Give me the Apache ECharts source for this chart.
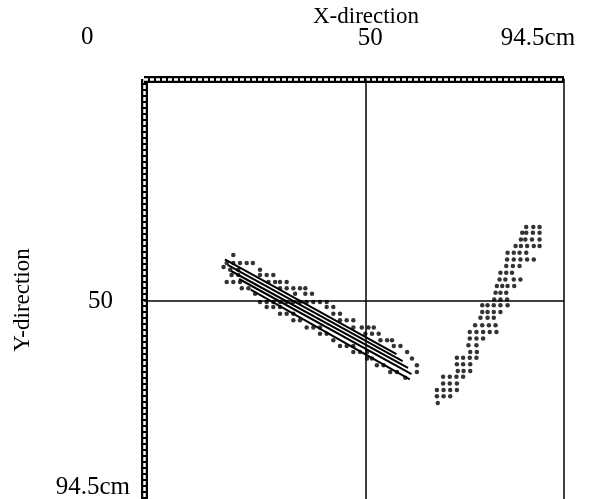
<!DOCTYPE html>
<html>
<head>
<meta charset="utf-8">
<script src="https://cdn.jsdelivr.net/npm/echarts@6/dist/echarts.min.js"></script>
<style>
  html, body { margin: 0; padding: 0; background: #fff; }
  #chart { width: 590px; height: 499px; }
</style>
</head>
<body>
<div id="chart"></div>
<script>
// Measurement area, 0 .. 94.5 cm in each direction
const AXIS_MAX = 94.5;
const xTickValues = [50, 94.5];
const yTickValues = [50, 94.5];
const xTickLabels = ['50', '94.5cm'];
const yTickLabels = ['50', '94.5cm'];
const originLabel = '0';
const guideX = 50;
const guideY = 50;

// Trace A: descending band of detected points (x cm, y cm)
const traceADots = [
  [20.1, 39.6],
  [18.6, 41.4], [20.1, 41.4], [21.6, 41.4], [23.1, 41.4], [24.5, 41.4],
  [17.9, 42.3],
  [19.4, 42.9], [21.2, 42.9], [26.1, 42.9],
  [19.7, 44.1], [21.2, 44.1], [26.1, 44.1], [27.6, 44.1], [29.1, 44.1],
  [18.6, 45.7], [20.1, 45.7], [21.6, 45.7], [28.0, 45.7], [29.5, 45.7], [30.6, 45.7], [32.1, 45.7],
  [22.0, 47.1], [23.5, 47.1], [30.6, 47.1], [32.1, 47.1], [33.6, 47.1], [35.1, 47.1], [36.3, 47.1],
  [25.0, 48.3], [34.0, 48.3], [36.3, 48.3], [37.8, 48.3],
  [26.1, 50.2], [27.6, 50.2], [29.1, 50.2], [30.6, 50.2], [32.1, 50.2], [33.6, 50.2],
  [35.1, 50.2], [36.6, 50.2], [38.1, 50.2], [39.6, 50.2], [41.1, 50.2],
  [27.6, 51.3], [29.1, 51.3], [30.6, 51.3], [41.1, 51.3], [42.6, 51.3],
  [30.6, 52.8], [32.1, 52.8], [33.6, 52.8], [42.6, 52.8], [44.1, 52.8],
  [33.6, 54.3], [35.1, 54.3], [44.1, 54.3], [45.6, 54.3], [47.1, 54.3],
  [36.6, 55.9], [38.1, 55.9], [39.6, 55.9], [47.1, 55.9], [49.0, 55.9], [50.5, 55.9], [51.7, 55.9],
  [39.6, 57.3], [41.1, 57.3], [49.8, 57.3], [51.3, 57.3], [52.8, 57.3],
  [42.6, 58.8], [53.2, 58.8], [54.7, 58.8], [55.8, 58.8],
  [44.1, 60.1], [45.6, 60.1], [47.1, 60.1], [56.2, 60.1], [57.7, 60.1],
  [47.1, 61.4], [48.6, 61.4], [50.2, 61.4], [59.2, 61.4],
  [50.2, 62.9], [51.3, 62.9], [60.3, 62.9],
  [52.4, 64.4], [53.9, 64.4], [61.4, 64.4],
  [55.4, 65.9], [56.9, 65.9], [61.4, 65.9],
  [58.8, 67.2]
];

// Trace A: dense core strokes (start, end)
const traceAStrokes = [
  [[18.2, 40.6], [56.8, 61.9]],
  [[18.8, 41.8], [58.2, 63.5]],
  [[19.6, 43.2], [59.4, 65.0]],
  [[21.4, 45.0], [60.2, 66.4]],
  [[24.0, 47.4], [59.8, 67.6]]
];

// Trace B: ascending band of detected points (x cm, y cm)
const traceBDots = [
  [86.0, 33.3], [87.6, 33.3], [89.0, 33.3],
  [85.1, 34.6], [86.0, 34.6], [87.5, 34.6], [89.0, 34.6],
  [84.8, 36.1], [85.8, 36.1], [87.3, 36.1], [89.0, 36.1],
  [83.6, 37.6], [84.8, 37.6], [86.2, 37.6], [87.7, 37.6], [89.0, 37.6],
  [81.8, 39.1], [83.2, 39.1], [84.5, 39.1], [86.0, 39.1],
  [81.7, 40.6], [83.2, 40.6], [84.7, 40.6], [86.2, 40.6], [87.7, 40.6],
  [81.5, 42.1], [83.0, 42.1], [84.5, 42.1],
  [80.2, 43.6], [81.5, 43.6], [82.8, 43.6],
  [80.0, 45.1], [81.3, 45.1], [83.2, 45.1], [84.7, 45.1],
  [79.4, 46.6], [80.6, 46.6], [81.8, 46.6], [83.3, 46.6],
  [79.1, 48.1], [80.2, 48.1], [81.5, 48.1],
  [78.8, 49.6], [80.2, 49.6], [81.7, 49.6],
  [76.1, 50.9], [77.3, 50.9], [78.7, 50.9], [80.2, 50.9], [81.8, 50.9],
  [76.1, 52.4], [77.3, 52.4], [78.7, 52.4], [80.2, 52.4],
  [75.7, 53.7], [77.3, 53.7], [78.7, 53.7],
  [74.5, 55.4], [76.1, 55.4], [77.6, 55.4], [79.1, 55.4],
  [73.3, 56.9], [74.8, 56.9], [76.3, 56.9], [77.8, 56.9], [79.3, 56.9],
  [73.3, 58.4], [74.8, 58.4], [76.3, 58.4],
  [73.0, 59.9], [74.8, 59.9],
  [73.4, 61.4], [74.9, 61.4],
  [70.4, 62.7], [71.8, 62.7], [73.3, 62.7], [74.8, 62.7],
  [70.4, 64.2], [71.8, 64.2], [73.4, 64.2],
  [70.6, 65.7], [71.9, 65.7], [73.4, 65.7],
  [67.3, 67.0], [68.8, 67.0], [70.3, 67.0], [71.8, 67.0],
  [67.3, 68.5], [68.8, 68.5], [70.4, 68.5],
  [65.9, 70.0], [67.4, 70.0], [68.9, 70.0], [70.4, 70.0],
  [65.9, 71.4], [67.4, 71.4], [68.9, 71.4],
  [66.1, 72.9]
];

const FONT = 'Liberation Serif';
const NAME_FS = 23;
const TICK_FS = 25;
const NAME_TEXT = { fontFamily: FONT, fontSize: NAME_FS, color: '#000' };
const TICK_TEXT = { fontFamily: FONT, fontSize: TICK_FS, color: '#000' };

function labelFor(values, labels) {
  return v => {
    const i = values.findIndex(t => Math.abs(t - v) < 1e-6);
    return i < 0 ? '' : '{t' + i + '|' + labels[i] + '}';
  };
}

// ruler-style frame: black bar with a white dashed core
const hatchedBar = { show: true, lineStyle: { color: '#000', width: 7, cap: 'butt' } };
const hatchedDash = { show: true, lineStyle: { color: '#fff', width: 2.5, type: [4, 2], cap: 'butt' } };

const chart = echarts.init(document.getElementById('chart'), null, { renderer: 'canvas' });

const strokeSeries = traceAStrokes.map(seg => ({
  type: 'line',
  data: seg,
  symbol: 'none',
  lineStyle: { color: '#000', width: 2 },
  silent: true
}));

chart.setOption({
  animation: false,
  grid: { left: 144, top: 79, width: 420, height: 420, outerBoundsMode: 'none', containLabel: false },
  graphic: [
    { type: 'text', left: 81, top: 25, style: { text: originLabel, font: TICK_FS + 'px "Liberation Serif"', fill: '#000' } }
  ],
  xAxis: [
    {
      type: 'value', position: 'top', min: 0, max: AXIS_MAX,
      name: 'X-direction', nameLocation: 'middle', nameGap: 51, nameMoveOverlap: false,
      nameTextStyle: Object.assign({}, NAME_TEXT, { padding: [0, 0, 0, 24] }),
      axisLine: hatchedBar, axisTick: { show: false }, splitLine: { show: false },
      axisLabel: {
        customValues: xTickValues, margin: 28,
        formatter: labelFor(xTickValues, xTickLabels),
        rich: {
          t0: Object.assign({}, TICK_TEXT, { padding: [0, 0, 0, 8] }),
          t1: Object.assign({}, TICK_TEXT, { padding: [0, 52, 0, 0] })
        }
      }
    },
    {
      type: 'value', position: 'top', min: 0, max: AXIS_MAX,
      axisLine: hatchedDash, axisTick: { show: false }, axisLabel: { show: false }, splitLine: { show: false }
    }
  ],
  yAxis: [
    {
      type: 'value', inverse: true, position: 'left', min: 0, max: AXIS_MAX,
      name: 'Y-direction', nameLocation: 'middle', nameGap: 110, nameRotate: 90, nameMoveOverlap: false,
      nameTextStyle: Object.assign({}, NAME_TEXT, { padding: [0, 22, 0, 0] }),
      axisLine: hatchedBar, axisTick: { show: false }, splitLine: { show: false },
      axisLabel: {
        customValues: yTickValues, margin: 14,
        formatter: labelFor(yTickValues, yTickLabels),
        rich: {
          t0: Object.assign({}, TICK_TEXT, { padding: [0, 17, 0, 0] }),
          t1: Object.assign({}, TICK_TEXT, { padding: [0, 0, 24, 0] })
        }
      }
    },
    {
      type: 'value', inverse: true, position: 'left', min: 0, max: AXIS_MAX,
      axisLine: hatchedDash, axisTick: { show: false }, axisLabel: { show: false }, splitLine: { show: false }
    },
    {
      type: 'value', inverse: true, position: 'right', min: 0, max: AXIS_MAX,
      axisLine: { show: true, lineStyle: { color: '#000', width: 1.5 } },
      axisTick: { show: false }, axisLabel: { show: false }, splitLine: { show: false }
    }
  ],
  series: [
    {
      type: 'scatter',
      data: traceADots,
      symbol: 'circle', symbolSize: 4.5,
      itemStyle: { color: '#000' },
      markLine: {
        silent: true, symbol: 'none', label: { show: false },
        lineStyle: { color: '#000', width: 1.5, type: 'solid' },
        data: [{ xAxis: guideX }, { yAxis: guideY }]
      }
    },
    {
      type: 'scatter',
      data: traceBDots,
      symbol: 'circle', symbolSize: 4.5,
      itemStyle: { color: '#000' }
    }
  ].concat(strokeSeries)
});
</script>
</body>
</html>
